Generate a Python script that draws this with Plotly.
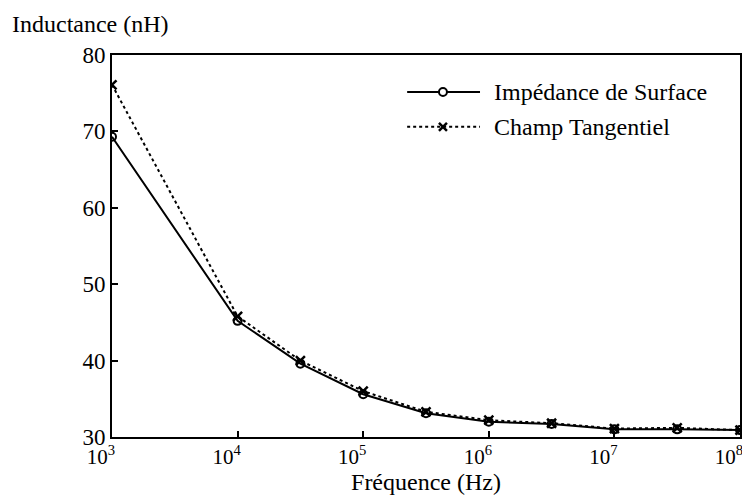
import plotly.graph_objects as go

freq_imp = [1e3, 1e4, 10**4.5, 1e5, 10**5.5, 1e6, 10**6.5, 1e7, 10**7.5, 1e8]
imp_surface = [69.3, 45.2, 39.6, 35.6, 33.1, 32.0, 31.7, 31.0, 31.0, 30.9]
freq_tan = [1e3, 1e4, 10**4.5, 1e5, 10**5.5, 1e6, 10**6.5, 1e7, 10**7.5, 1e8]
champ_tan = [76.1, 45.8, 40.0, 36.0, 33.3, 32.2, 31.8, 31.1, 31.2, 30.9]

series_names = ["Impédance de Surface", "Champ Tangentiel"]

x_tickvals = [1e3, 1e4, 1e5, 1e6, 1e7, 1e8]
x_ticktext = ["10<sup>3</sup>", "10<sup>4</sup>", "10<sup>5</sup>", "10<sup>6</sup>", "10<sup>7</sup>", "10<sup>8</sup>"]
y_tickvals = [30, 40, 50, 60, 70, 80]

FONT = "Liberation Serif"

fig = go.Figure()
fig.add_trace(go.Scatter(
    x=freq_imp, y=imp_surface, mode="lines+markers", name=series_names[0],
    line=dict(color="black", width=2),
    marker=dict(symbol="circle-open", size=8, color="black", line=dict(width=2)),
))
fig.add_trace(go.Scatter(
    x=freq_tan, y=champ_tan, mode="lines+markers", name=series_names[1],
    line=dict(color="black", width=2, dash="dot"),
    marker=dict(symbol="x-thin-open", size=9, color="black", line=dict(width=2.5)),
))

# custom legend (long line samples like the reference)
lx0, lx1, lxm, ltext = 0.470, 0.586, 0.527, 0.605
ly1, ly2 = 0.903, 0.812
shapes = [
    dict(type="line", xref="paper", yref="paper", x0=lx0, x1=lx1, y0=ly1, y1=ly1,
         line=dict(color="black", width=2)),
    dict(type="circle", xref="paper", yref="paper", xsizemode="pixel", ysizemode="pixel",
         xanchor=lxm, yanchor=ly1, x0=-4, x1=4, y0=-4, y1=4,
         line=dict(color="black", width=2), fillcolor="white"),
    dict(type="line", xref="paper", yref="paper", x0=lx0, x1=lx1, y0=ly2, y1=ly2,
         line=dict(color="black", width=2, dash="dot")),
    dict(type="line", xref="paper", yref="paper", xsizemode="pixel", ysizemode="pixel",
         xanchor=lxm, yanchor=ly2, x0=-4, x1=4, y0=-4, y1=4,
         line=dict(color="black", width=2.5)),
    dict(type="line", xref="paper", yref="paper", xsizemode="pixel", ysizemode="pixel",
         xanchor=lxm, yanchor=ly2, x0=-4, x1=4, y0=4, y1=-4,
         line=dict(color="black", width=2.5)),
]

fig.update_layout(
    width=734, height=487,
    margin=dict(l=104, r=2, t=47, b=58, autoexpand=False),
    paper_bgcolor="white", plot_bgcolor="white",
    font=dict(family=FONT, size=24, color="black"),
    showlegend=False,
    shapes=shapes,
    xaxis=dict(type="log", range=[3, 8], tickvals=x_tickvals, ticktext=x_ticktext,
               showgrid=False, zeroline=False, showline=True, linecolor="black",
               linewidth=2, mirror=True, ticks="inside", ticklen=6, tickwidth=1.5,
               tickcolor="black", tickfont=dict(size=21), ticklabeloverflow="allow",
               ticklabelshift=-11,
               title=dict(text="Fréquence (Hz)", standoff=0, font=dict(size=24))),
    yaxis=dict(range=[30, 80], tickvals=y_tickvals, tickfont=dict(size=23),
               showgrid=False, zeroline=False, showline=True, linecolor="black",
               linewidth=2, mirror=True, ticks="inside", ticklen=6, tickwidth=1.5,
               tickcolor="black", ticklabeloverflow="allow"),
    annotations=[
        dict(text="Inductance (nH)", xref="paper", yref="paper",
             x=-0.162, y=1.081, xanchor="left", yanchor="middle",
             showarrow=False, font=dict(family=FONT, size=24)),
        dict(text=series_names[0], xref="paper", yref="paper",
             x=ltext, y=ly1, xanchor="left", yanchor="middle",
             showarrow=False, font=dict(family=FONT, size=24)),
        dict(text=series_names[1], xref="paper", yref="paper",
             x=ltext, y=ly2, xanchor="left", yanchor="middle",
             showarrow=False, font=dict(family=FONT, size=24)),
    ],
)

fig.write_html("out.html")
